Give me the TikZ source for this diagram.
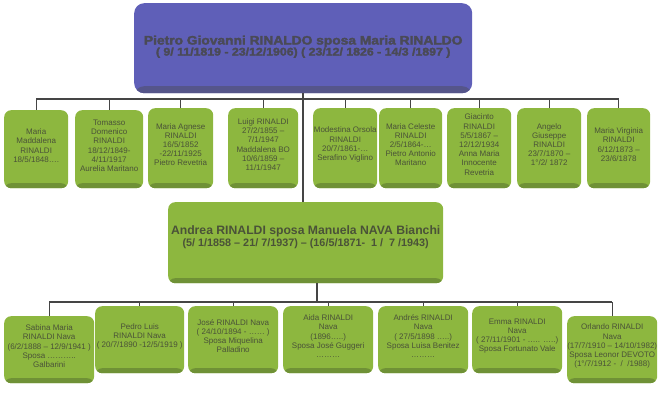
\documentclass[tikz,border=0pt]{standalone}
\usepackage{graphicx}
\usepackage{fontspec}
\setmainfont{Liberation Sans}
\newfontfamily\heavyfont[FakeBold=2.5]{Liberation Sans Bold}
\definecolor{gfill}{HTML}{8DB73F}
\definecolor{gbase}{HTML}{6F9136}
\definecolor{bfill}{HTML}{5F5FB8}
\definecolor{bbase}{HTML}{55558A}
\definecolor{gtxt}{HTML}{4A5238}
\definecolor{btxt}{HTML}{4A4A56}
\definecolor{conncol}{HTML}{454545}
\tikzset{
  box/.style={draw=none, fill=gfill, rounded corners=7pt, inner sep=0pt, anchor=north west,
    path picture={\fill[gbase] ([yshift=-1pt]path picture bounding box.south west) rectangle ([yshift=5pt]path picture bounding box.south east);}},
  bluebox/.style={draw=none, fill=bfill, rounded corners=10pt, inner sep=0pt, anchor=north west,
    path picture={\fill[bbase] ([yshift=-1pt]path picture bounding box.south west) rectangle ([yshift=7pt]path picture bounding box.south east);}},
  gtext/.style={text=gtxt, align=center, inner sep=0pt, font=\fontsize{8}{9.2}\selectfont},
  conn/.style={draw=conncol, line width=1.4pt},
}
% name, x1, y1, x2, y2, text
\newcommand\gbox[6]{%
  \node[box, minimum width=#4-#2, minimum height=#5-#3] (#1) at (#2,#3) {};
  \node[gtext] (#1t) at ([yshift=3.5pt]#1.center) {#6};}
\begin{document}
\begin{tikzpicture}[x=1pt,y=-1pt]
\useasboundingbox (0,0) rectangle (660,393);
% top couple
\node[bluebox, minimum width=338, minimum height=90] (top) at (134,3) {};
\node[text=btxt, align=center, inner sep=0pt] (topt) at ([yshift=1.5pt]top.center)
  {\scalebox{1.12}[1]{\heavyfont\fontsize{12.3}{15}\selectfont Pietro Giovanni RINALDO sposa Maria RINALDO}\\[-1pt]
   \scalebox{1.12}[1]{\heavyfont\fontsize{11}{15}\selectfont ( 9/ 11/1819 - 23/12/1906) ( 23/12/ 1826 - 14/3 /1897 )}};
% first generation children
\gbox{c1}{4}{110}{68}{188}{Maria\\Maddalena\\RINALDI\\18/5/1848….}
\gbox{c2}{75}{110}{143}{188}{Tomasso\\Domenico\\RINALDI\\18/12/1849-\\4/11/1917\\Aurelia Maritano}
\gbox{c3}{148}{108}{213}{188}{Maria Agnese\\RINALDI\\16/5/1852\\-22/11/1925\\Pietro Revetria}
\gbox{c4}{228}{108}{298}{188}{Luigi RINALDI\\27/2/1855 –\\7/1/1947\\Maddalena BO\\10/6/1859 –\\11/1/1947}
\gbox{c5}{313}{108}{377}{188}{Modestina Orsola\\RINALDI\\20/7/1861-…\\Serafino Viglino}
\gbox{c6}{379}{108}{442}{188}{Maria Celeste\\RINALDI\\2/5/1864-…\\Pietro Antonio\\Maritano}
\gbox{c7}{447}{108}{511}{188}{Giacinto\\RINALDI\\5/5/1867 –\\12/12/1934\\Anna Maria\\Innocente\\Revetria}
\gbox{c8}{517}{108}{581}{188}{Angelo\\Giuseppe\\RINALDI\\23/7/1870 –\\1°/2/ 1872}
\gbox{c9}{587}{108}{650}{188}{Maria Virginia\\RINALDI\\6/12/1873 –\\23/6/1878}
% Andrea
\node[box, minimum width=275, minimum height=81] (andrea) at (168,202) {};
\node[text=gtxt, align=center, inner sep=0pt] (andreat) at ([yshift=6pt]andrea.center)
  {{\bfseries\fontsize{12.2}{14}\selectfont Andrea RINALDI sposa Manuela NAVA Bianchi}\\
   {\bfseries\fontsize{10.8}{14}\selectfont (5/ 1/1858 – 21/ 7/1937) – (16/5/1871-~ 1 /~ 7 /1943)}};
% second generation
\gbox{d1}{4}{316}{94}{383}{Sabina Maria\\RINALDI Nava\\(6/2/1888 – 12/9/1941 )\\Sposa ………..\\Galbarini}
\gbox{d2}{95}{306}{184}{373}{Pedro Luis\\RINALDI Nava\\( 20/7/1890 -12/5/1919 )}
\gbox{d3}{188}{306}{278}{373}{José RINALDI Nava\\( 24/10/1894 - …… )\\Sposa Miquelina\\Palladino}
\gbox{d4}{283}{306}{373}{373}{Aida RINALDI\\Nava\\(1896…..)\\Sposa José Guggeri\\………}
\gbox{d5}{378}{306}{468}{373}{Andrés RINALDI\\Nava\\( 27/5/1898 …..)\\Sposa Luisa Benitez\\………}
\gbox{d6}{472}{306}{562}{373}{Emma RINALDI\\Nava\\( 27/11/1901 - ….. …..)\\Sposa Fortunato Vale}
\gbox{d7}{567}{316}{657}{383}{Orlando RINALDI\\Nava\\(17/7/1910 – 14/10/1982)\\Sposa Leonor DEVOTO\\(1°/7/1912 -~ /~ /1988)}
% connectors, first generation
\coordinate (b1) at (303,99);
\draw[conn] (b1 |- top.south) -- (b1);
\draw[conn] (b1 -| c1.north) -- (b1 -| c9.north);
\foreach \c in {c1,c2,c3,c4,c5,c6,c7,c8,c9}{\draw[conn] (b1 -| \c.north) -- (\c.north);}
\draw[conn] (b1) -- (b1 |- andrea.north);
% connectors, second generation
\coordinate (b2) at (317,302);
\draw[conn] (b2 |- andrea.south) -- (b2);
\draw[conn] (b2 -| d1.north) -- (b2 -| d7.north);
\foreach \d in {d1,d2,d3,d4,d5,d6,d7}{\draw[conn] (b2 -| \d.north) -- (\d.north);}
\end{tikzpicture}
\end{document}
